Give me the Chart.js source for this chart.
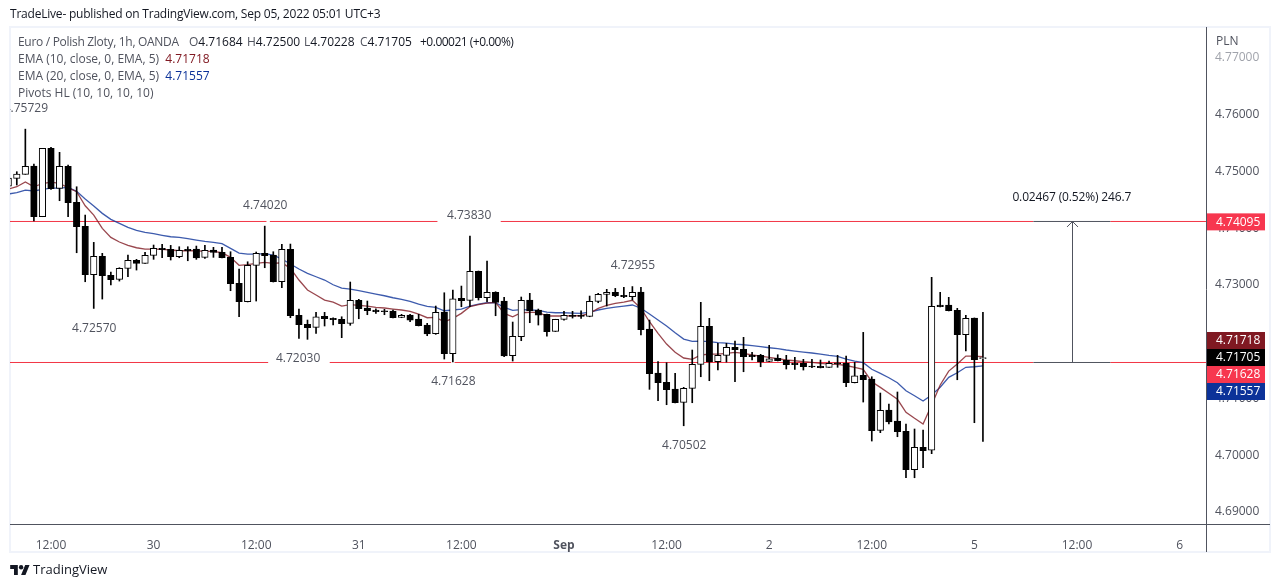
<!DOCTYPE html>
<html><head><meta charset="utf-8">
<script src="https://cdn.jsdelivr.net/npm/chart.js@4"></script>
<style>
html,body{margin:0;padding:0;background:#fff;width:1280px;height:587px;overflow:hidden;font-family:"Open Sans",sans-serif}
#box{position:absolute;left:9px;top:26px;width:1258px;height:523px;border:2px solid #f0f3fa}
canvas{position:absolute;left:0;top:0}
.t{position:absolute;white-space:pre;font-size:12px;line-height:16px;color:#131722}
.l{color:#50535e}
.logo{position:absolute;left:10px;top:564px}
</style></head><body>
<div id="box"></div>
<canvas id="c" width="1280" height="587"></canvas>
<div class="t" style="left:10px;top:6px;letter-spacing:-.21px">TradeLive- published on TradingView.com, Sep 05, 2022 05:01 UTC+3</div>
<div class="t l" style="left:18px;top:34px;letter-spacing:-.3px">Euro / Polish Zloty, 1h, OANDA</div>
<div class="t l" style="left:189px;top:34px">O<span style="color:#131722">4.71684</span></div>
<div class="t l" style="left:247px;top:34px">H<span style="color:#131722">4.72500</span></div>
<div class="t l" style="left:304px;top:34px">L<span style="color:#131722">4.70228</span></div>
<div class="t l" style="left:360px;top:34px">C<span style="color:#131722">4.71705</span></div>
<div class="t" style="left:420px;top:34px;letter-spacing:-.5px">+0.00021 (+0.00%)</div>
<div class="t l" style="left:18px;top:51px">EMA (10, close, 0, EMA, 5)  <span style="color:#801922">4.71718</span></div>
<div class="t l" style="left:18px;top:68px">EMA (20, close, 0, EMA, 5)  <span style="color:#0c3299">4.71557</span></div>
<div class="t l" style="left:18px;top:85px">Pivots HL (10, 10, 10, 10)</div>
<div class="t l" style="left:1216px;top:33px">PLN</div>
<svg class="logo" width="20" height="12" viewBox="0 2 36 22"><path fill="#131722" d="M14 22H7V11H0V4h14v18zM28 22h-8l7.5-18h8L28 22z"/><circle fill="#131722" cx="20" cy="8" r="4"/></svg>
<div class="t" style="left:33px;top:561px;font-size:13px">TradingView</div>
<script>
const firstBar = -5;
const opens = [4.74726,4.74862,4.74933,4.75079,4.74186,4.75391,4.74686,4.75074,4.74439,4.74016,4.73163,4.73488,4.73153,4.73082,4.73276,4.73417,4.73364,4.73505,4.73629,4.73611,4.73481,4.73611,4.73616,4.73470,4.73599,4.73558,4.73470,4.73012,4.72688,4.73329,4.73541,4.73511,4.73040,4.73611,4.72448,4.72290,4.72237,4.72430,4.72395,4.72377,4.72307,4.72713,4.72577,4.72542,4.72529,4.72524,4.72413,4.72453,4.72383,4.72277,4.72124,4.72506,4.71772,4.72748,4.72713,4.73223,4.72758,4.72853,4.72700,4.71736,4.72071,4.72718,4.72542,4.72466,4.72166,4.72377,4.72448,4.72448,4.72430,4.72695,4.72818,4.72853,4.72800,4.72776,4.72859,4.72207,4.71431,4.71267,4.71149,4.70915,4.71162,4.71585,4.72254,4.71631,4.71743,4.71884,4.71849,4.71743,4.71743,4.71638,4.71690,4.71655,4.71607,4.71602,4.71549,4.71549,4.71532,4.71607,4.71602,4.71260,4.71391,4.71325,4.70422,4.70780,4.70585,4.70404,4.69728,4.70122,4.70070,4.72630,4.72630,4.72536,4.72106,4.72400,4.71684];
const highs = [4.74902,4.74979,4.75729,4.75114,4.75391,4.75408,4.75320,4.75097,4.74714,4.74215,4.73734,4.73541,4.73211,4.73287,4.73511,4.73435,4.73558,4.73687,4.73699,4.73681,4.73657,4.73657,4.73669,4.73681,4.73646,4.73646,4.73569,4.73264,4.73392,4.73564,4.74020,4.73569,4.73699,4.73704,4.72559,4.72365,4.72501,4.72501,4.72406,4.72423,4.73035,4.72730,4.72700,4.72564,4.72554,4.72542,4.72466,4.72466,4.72466,4.72307,4.72612,4.72846,4.72894,4.72964,4.73846,4.73229,4.73405,4.72864,4.72765,4.72330,4.72771,4.72836,4.72559,4.72471,4.72379,4.72519,4.72519,4.72529,4.72788,4.72836,4.72906,4.72923,4.72941,4.72955,4.72941,4.72365,4.71631,4.71613,4.71426,4.71179,4.71837,4.72677,4.72395,4.71955,4.71955,4.71995,4.72060,4.71796,4.71761,4.71919,4.71754,4.71743,4.71708,4.71673,4.71673,4.71661,4.71643,4.71743,4.71731,4.71620,4.72148,4.71366,4.71079,4.70885,4.71097,4.70533,4.70445,4.70427,4.73118,4.72853,4.72765,4.72571,4.72448,4.72402,4.72500];
const lows = [4.74691,4.74744,4.74933,4.74110,4.74186,4.74668,4.74468,4.74186,4.73551,4.73040,4.72570,4.72735,4.72982,4.73052,4.73128,4.73246,4.73361,4.73435,4.73463,4.73423,4.73463,4.73410,4.73435,4.73452,4.73470,4.73460,4.72882,4.72423,4.72684,4.72700,4.73287,4.73035,4.72934,4.72406,4.72043,4.72025,4.72131,4.72260,4.72277,4.72054,4.72272,4.72388,4.72459,4.72483,4.72459,4.72402,4.72406,4.72335,4.72261,4.72089,4.72113,4.71678,4.71628,4.72600,4.72600,4.72718,4.72688,4.72441,4.71719,4.71643,4.72001,4.72318,4.72277,4.72083,4.72163,4.72365,4.72400,4.72395,4.72423,4.72670,4.72612,4.72776,4.72758,4.72718,4.72101,4.71144,4.70943,4.70873,4.70904,4.70502,4.70908,4.71366,4.71296,4.71484,4.71625,4.71278,4.71454,4.71661,4.71542,4.71631,4.71644,4.71502,4.71497,4.71484,4.71525,4.71521,4.71530,4.71532,4.71190,4.71257,4.70920,4.70233,4.70380,4.70533,4.70309,4.69586,4.69586,4.69763,4.70010,4.72596,4.72525,4.71313,4.71819,4.70556,4.70228];
const closes = [4.74867,4.74938,4.75074,4.74186,4.75391,4.74679,4.75074,4.74432,4.74009,4.73163,4.73488,4.73146,4.73075,4.73276,4.73417,4.73364,4.73505,4.73629,4.73604,4.73481,4.73593,4.73586,4.73458,4.73593,4.73558,4.73463,4.73005,4.72688,4.73329,4.73541,4.73498,4.73040,4.73611,4.72441,4.72282,4.72230,4.72423,4.72388,4.72371,4.72300,4.72713,4.72564,4.72529,4.72512,4.72512,4.72406,4.72448,4.72365,4.72265,4.72119,4.72501,4.71772,4.72741,4.72706,4.73223,4.72758,4.72853,4.72677,4.71731,4.72078,4.72713,4.72524,4.72453,4.72159,4.72377,4.72448,4.72430,4.72430,4.72695,4.72818,4.72853,4.72793,4.72776,4.72853,4.72194,4.71419,4.71260,4.71137,4.70908,4.71162,4.71585,4.72254,4.71625,4.71743,4.71884,4.71842,4.71719,4.71719,4.71625,4.71683,4.71648,4.71578,4.71578,4.71542,4.71537,4.71525,4.71602,4.71595,4.71260,4.71384,4.71313,4.70415,4.70774,4.70568,4.70397,4.69728,4.70122,4.70063,4.72607,4.72600,4.72529,4.72106,4.72395,4.71666,4.71705];
const ema10 = [4.74674,4.74714,4.74797,4.74714,4.74771,4.74797,4.74774,4.74696,4.74626,4.74379,4.74215,4.73981,4.73822,4.73740,4.73681,4.73639,4.73616,4.73616,4.73611,4.73599,4.73586,4.73586,4.73586,4.73576,4.73576,4.73551,4.73470,4.73329,4.73340,4.73364,4.73382,4.73364,4.73375,4.73276,4.73070,4.72894,4.72806,4.72718,4.72682,4.72612,4.72635,4.72624,4.72612,4.72589,4.72577,4.72559,4.72542,4.72519,4.72471,4.72406,4.72413,4.72335,4.72395,4.72483,4.72600,4.72635,4.72665,4.72677,4.72483,4.72423,4.72494,4.72501,4.72501,4.72436,4.72436,4.72436,4.72441,4.72441,4.72483,4.72571,4.72624,4.72659,4.72682,4.72713,4.72571,4.72335,4.72131,4.71942,4.71796,4.71696,4.71673,4.71749,4.71766,4.71766,4.71779,4.71796,4.71779,4.71749,4.71731,4.71708,4.71683,4.71661,4.71648,4.71631,4.71620,4.71602,4.71590,4.71585,4.71564,4.71532,4.71497,4.71278,4.71179,4.71074,4.70968,4.70739,4.70633,4.70533,4.70868,4.71220,4.71466,4.71590,4.71731,4.71731,4.71718];
const ema20 = [4.74586,4.74610,4.74656,4.74639,4.74668,4.74691,4.74691,4.74704,4.74633,4.74497,4.74374,4.74245,4.74140,4.74069,4.73999,4.73946,4.73911,4.73886,4.73858,4.73833,4.73822,4.73798,4.73775,4.73752,4.73734,4.73710,4.73629,4.73546,4.73528,4.73528,4.73534,4.73511,4.73440,4.73352,4.73264,4.73188,4.73128,4.73070,4.72987,4.72929,4.72911,4.72882,4.72853,4.72823,4.72793,4.72758,4.72730,4.72695,4.72647,4.72607,4.72589,4.72529,4.72542,4.72559,4.72612,4.72647,4.72670,4.72670,4.72589,4.72536,4.72547,4.72542,4.72536,4.72506,4.72494,4.72494,4.72488,4.72483,4.72506,4.72542,4.72571,4.72594,4.72612,4.72630,4.72573,4.72471,4.72365,4.72260,4.72142,4.72030,4.71990,4.71995,4.71983,4.71966,4.71960,4.71942,4.71930,4.71913,4.71895,4.71877,4.71860,4.71837,4.71819,4.71801,4.71784,4.71766,4.71743,4.71725,4.71678,4.71643,4.71613,4.71497,4.71426,4.71349,4.71260,4.71119,4.71032,4.70938,4.71044,4.71180,4.71356,4.71437,4.71532,4.71542,4.71557];

const xMin = -4.795, xMax = 135.09;
const yMax = 4.77529, yMin = 4.68771;
const priceTicks = [4.69,4.70,4.71,4.72,4.73,4.74,4.75,4.76,4.77];
const timePositions = [0,12,24,36,48,60,72,84,96,108,120,132];
const timeLabels = ["12:00","30","12:00","31","12:00","Sep","12:00","2","12:00","5","12:00","6"];

const upperLevel = 4.74102, lowerLevel = 4.71617;
const upperBreaks = [[xMin,25.2],[25.6,45.2],[52.6,114.9],[123.9,xMax]];
const lowerBreaks = [[xMin,25.4],[32.6,46.8],[47.2,114.9],[123.9,xMax]];
const measureSpan = [114.9,123.9];
const measureBar = 119.45;
const levelTexts = ["4.73830","4.72030"];
const levelTextBars = [48.9,28.9];
const levelTextVals = [upperLevel,lowerLevel];
const levelTextLift = [5.5,3.5];

const pivotBars = [-3,5,25,47,68,74];
const pivotVals = [4.75729,4.72570,4.74020,4.71628,4.72955,4.70502];
const pivotSide = [-1,1,-1,1,-1,1];

const tagVals = [4.74095,4.71718,4.71705,4.71628,4.71557];
const tagColors = ["#f7374f","#801922","#000000","#f7374f","#0c3299"];

const barX = opens.map((_,i)=>firstBar+i);
const seg = (pairs,v)=>{const out=[];pairs.forEach(p=>{out.push({x:p[0],y:v},{x:p[1],y:v},{x:p[1],y:null});});return out;};
const fontName = '"Open Sans"';

const overlay = {
  id:'overlay',
  afterDatasetsDraw(chart){
    const {ctx,chartArea:a,scales:{x,y}}=chart;
    ctx.save();
    ctx.beginPath();ctx.rect(a.left,a.top,a.right-a.left,a.bottom-a.top);ctx.clip();
    ctx.font='12px '+fontName;ctx.fillStyle='#50535e';ctx.textAlign='center';ctx.textBaseline='middle';
    pivotBars.forEach((b,i)=>{
      const off=pivotSide[i]<0?-21:20;
      ctx.fillText(pivotVals[i].toFixed(5),x.getPixelForValue(b)+.5,y.getPixelForValue(pivotVals[i])+off);
    });
    levelTexts.forEach((t,i)=>ctx.fillText(t,x.getPixelForValue(levelTextBars[i]),y.getPixelForValue(levelTextVals[i])-levelTextLift[i]));
    const ax=x.getPixelForValue(measureBar),ay0=y.getPixelForValue(lowerLevel),ay1=y.getPixelForValue(upperLevel);
    ctx.strokeStyle='#50535e';ctx.lineWidth=1;
    ctx.beginPath();ctx.moveTo(Math.round(ax)+.5,ay0);ctx.lineTo(Math.round(ax)+.5,ay1);
    ctx.moveTo(Math.round(ax)-5,ay1+5.5);ctx.lineTo(Math.round(ax)+.5,ay1);ctx.lineTo(Math.round(ax)+6,ay1+5.5);ctx.stroke();
    ctx.fillStyle='#131722';
    ctx.letterSpacing='-0.15px';
    ctx.fillText('0.02467 (0.52%) 246.7',ax-.5,ay1-24);
    ctx.restore();
  },
  afterDraw(chart){
    const {ctx,chartArea:a,scales:{y}}=chart;
    ctx.save();
    ctx.strokeStyle='#50535e';ctx.lineWidth=1;
    ctx.beginPath();ctx.moveTo(a.right+.5,27);ctx.lineTo(a.right+.5,552);
    ctx.moveTo(10,a.bottom+.5);ctx.lineTo(1270,a.bottom+.5);ctx.stroke();
    const h=17,anchor=2;
    const ys=tagVals.map(v=>y.getPixelForValue(v));
    for(let i=anchor-1;i>=0;i--){if(ys[i]>ys[i+1]-h)ys[i]=ys[i+1]-h;}
    for(let i=anchor+1;i<ys.length;i++){if(ys[i]<ys[i-1]+h)ys[i]=ys[i-1]+h;}
    ctx.font='12px '+fontName;ctx.textAlign='left';ctx.textBaseline='middle';
    tagVals.forEach((v,i)=>{
      ctx.fillStyle=tagColors[i];ctx.fillRect(a.right+1,ys[i]-h/2,58,h);
      ctx.fillStyle='#fff';ctx.fillText(v.toFixed(5),a.right+10,ys[i]+.5);
    });
    ctx.restore();
  }
};

new Chart(document.getElementById('c'),{
  type:'bar',
  data:{datasets:[
    {type:'bar',label:'bodies',data:barX.map((n,i)=>({x:n,y:[opens[i],closes[i]]})),barThickness:6.5,grouped:false,
     backgroundColor:barX.map((n,i)=>closes[i]>=opens[i]?'#ffffff':'#000000'),borderColor:'#000000',borderWidth:1,borderSkipped:false,minBarLength:1,order:1},
    {type:'bar',label:'wicks',data:barX.map((n,i)=>({x:n,y:[lows[i],highs[i]]})),barThickness:1,grouped:false,
     backgroundColor:'#000000',borderWidth:0,order:2},
    {type:'line',label:'EMA10',data:barX.map((n,i)=>({x:n,y:ema10[i]})),borderColor:'rgba(128,25,34,.8)',borderWidth:1.3,pointRadius:0,tension:0,order:3},
    {type:'line',label:'EMA20',data:barX.map((n,i)=>({x:n,y:ema20[i]})),borderColor:'rgba(12,50,153,.8)',borderWidth:1.3,pointRadius:0,tension:0,order:3},
    {type:'line',label:'upper',data:seg(upperBreaks,upperLevel),borderColor:'#f23645',borderWidth:1,pointRadius:0,order:4},
    {type:'line',label:'lower',data:seg(lowerBreaks,lowerLevel),borderColor:'#f23645',borderWidth:1,pointRadius:0,order:4},
    {type:'line',label:'upperMeasure',data:seg([measureSpan],upperLevel),borderColor:'#50535e',borderWidth:1,pointRadius:0,order:3.5},
    {type:'line',label:'lowerMeasure',data:seg([measureSpan],lowerLevel),borderColor:'#50535e',borderWidth:1,pointRadius:0,order:3.5}
  ]},
  options:{
    responsive:false,animation:false,devicePixelRatio:1,
    layout:{padding:{left:10,top:27,right:10,bottom:35}},
    plugins:{legend:{display:false},tooltip:{enabled:false},title:{display:false}},
    events:[],
    scales:{
      x:{type:'linear',min:xMin,max:xMax,offset:false,
        grid:{display:false},border:{display:false},
        afterBuildTicks(s){s.ticks=timePositions.map(v=>({value:v}));},
        afterFit(s){s.height=28;},
        ticks:{autoSkip:false,maxRotation:0,padding:6,
          font:(c)=>({family:'Open Sans',size:12,weight:(c.tick&&c.tick.label==='Sep')?'bold':'normal'}),color:'#50535e',
          callback:(v)=>timeLabels[timePositions.indexOf(v)]}},
      y:{type:'linear',position:'right',min:yMin,max:yMax,
        grid:{display:false},border:{display:false},
        afterBuildTicks(s){s.ticks=priceTicks.map(v=>({value:v}));},
        afterFit(s){s.width=64;},
        ticks:{autoSkip:false,padding:1,labelOffset:1,font:{family:'Open Sans',size:12},
          color:(c)=>c.tick&&c.tick.value>4.765?'#a0a3ab':'#50535e',
          callback:(v)=>v.toFixed(5)}}
    }
  },
  plugins:[overlay]
});
</script>
</body></html>
